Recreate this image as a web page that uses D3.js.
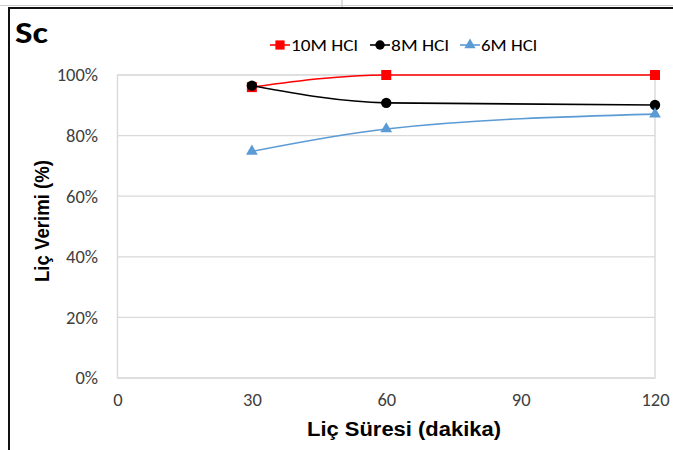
<!DOCTYPE html>
<html>
<head>
<meta charset="utf-8">
<script src="https://cdn.jsdelivr.net/npm/d3@7"></script>
<style>
  body { margin: 0; background: #fff; }
  svg text { font-family: Carlito, "Open Sans", "Noto Sans", sans-serif; }
</style>
</head>
<body>
<svg id="chart"></svg>
<script>
// data
const times = [30, 60, 120];
const hcl10 = [0.96, 1.00, 1.00];
const hcl8 = [0.965, 0.908, 0.901];
const hcl6 = [0.748, 0.822, 0.871];
const xTicks = [0, 30, 60, 90, 120];
const yTicks = [0, 0.2, 0.4, 0.6, 0.8, 1.0];

const series = [
    {name: "10M HCl", values: hcl10, color: "#ff0000", shape: d3.symbolSquare, len: 67},
    {name: "8M HCl", values: hcl8, color: "#000000", shape: d3.symbolCircle, len: 58},
    {name: "6M HCl", values: hcl6, color: "#5b9bd5", shape: d3.symbolTriangle, len: 56}
];

const W = 673, H = 450;
const margin = {top: 75, left: 117.5};
const width = 655 - margin.left;
const height = 378 - margin.top;

const root = d3.select("#chart").attr("width", W).attr("height", H);

// outer frame
root.append("line").attr("x1", 342).attr("x2", 342).attr("y1", 0).attr("y2", 7)
    .attr("stroke", "#bbb").attr("stroke-width", 1);
root.append("line").attr("x1", 0).attr("x2", W).attr("y1", 5.5).attr("y2", 5.5)
    .attr("stroke", "#ccc").attr("stroke-width", 1);
root.append("path").attr("d", `M9,${H} L9,8 L${W},8`)
    .attr("fill", "none").attr("stroke", "#111").attr("stroke-width", 2);

const svg = root.append("g").attr("transform", `translate(${margin.left},${margin.top})`);

const x = d3.scaleLinear().domain([0, 120]).range([0, width]);
const y = d3.scaleLinear().domain([0, 1]).range([height, 0]);

// gridlines
svg.append("g")
    .selectAll("line")
    .data(yTicks)
    .join("line")
    .attr("x1", 0).attr("x2", width)
    .attr("y1", d => y(d)).attr("y2", d => y(d))
    .attr("stroke", "#d9d9d9").attr("stroke-width", 1.2);

svg.append("rect")
    .attr("x", 0).attr("y", 0).attr("width", width).attr("height", height)
    .attr("fill", "none").attr("stroke", "#d9d9d9").attr("stroke-width", 1.4);

// Y axis
const yAxis = svg.append("g")
    .call(d3.axisLeft(y).tickValues(yTicks).tickFormat(d3.format(".0%")).tickSize(0).tickPadding(19.5));
yAxis.select(".domain").remove();
yAxis.selectAll("text").attr("font-size", "18.5px").attr("fill", "#404040");

// X axis
const xAxis = svg.append("g")
    .attr("transform", `translate(0,${height})`)
    .call(d3.axisBottom(x).tickValues(xTicks).tickSize(0).tickPadding(15));
xAxis.select(".domain").remove();
xAxis.selectAll("text").attr("font-size", "18.5px").attr("fill", "#404040");

// lines
const line = d3.line()
    .x((d, i) => x(times[i]))
    .y(d => y(d))
    .curve(d3.curveMonotoneX);

series.forEach(s => {
    svg.append("path")
        .datum(s.values)
        .attr("fill", "none")
        .attr("stroke", s.color)
        .attr("stroke-width", 1.6)
        .attr("d", line);
    svg.selectAll(null)
        .data(s.values)
        .join("path")
        .attr("transform", (d, i) => `translate(${x(times[i])},${y(d)})`)
        .attr("d", d3.symbol().type(s.shape).size(s.shape === d3.symbolTriangle ? 60 : s.shape === d3.symbolCircle ? 85 : 100))
        .attr("fill", s.color);
});

// legend
const legendX = [270, 370, 460];
series.forEach((s, i) => {
    const g = root.append("g").attr("transform", `translate(${legendX[i]},45)`);
    g.append("line").attr("x1", 0).attr("x2", 20).attr("y1", 0).attr("y2", 0)
        .attr("stroke", s.color).attr("stroke-width", 1.6);
    g.append("path").attr("transform", "translate(10,0)")
        .attr("d", d3.symbol().type(s.shape).size(s.shape === d3.symbolTriangle ? 55 : s.shape === d3.symbolCircle ? 70 : 85))
        .attr("fill", s.color);
    g.append("text").attr("x", 21).attr("y", 6)
        .attr("font-size", "17px").attr("fill", "#000")
        .attr("textLength", s.len).attr("lengthAdjust", "spacingAndGlyphs")
        .text(s.name);
});

// title
root.append("text").attr("x", 15).attr("y", 43)
    .attr("font-size", "31px").attr("font-weight", "bold")
    .attr("textLength", 33).attr("lengthAdjust", "spacingAndGlyphs")
    .text("Sc");

// axis titles
root.append("text")
    .attr("x", 404).attr("y", 436)
    .attr("text-anchor", "middle")
    .attr("font-size", "19.5px").attr("font-weight", "bold")
    .attr("textLength", 194).attr("lengthAdjust", "spacingAndGlyphs")
    .style("font-family", "Arial, 'Liberation Sans', sans-serif")
    .text("Liç Süresi (dakika)");

root.append("text")
    .attr("transform", "rotate(-90)")
    .attr("x", -221).attr("y", 49)
    .attr("text-anchor", "middle")
    .attr("font-size", "19.5px").attr("font-weight", "bold")
    .attr("textLength", 122).attr("lengthAdjust", "spacingAndGlyphs")
    .style("font-family", "Arial, 'Liberation Sans', sans-serif")
    .text("Liç Verimi (%)");
</script>
</body>
</html>
